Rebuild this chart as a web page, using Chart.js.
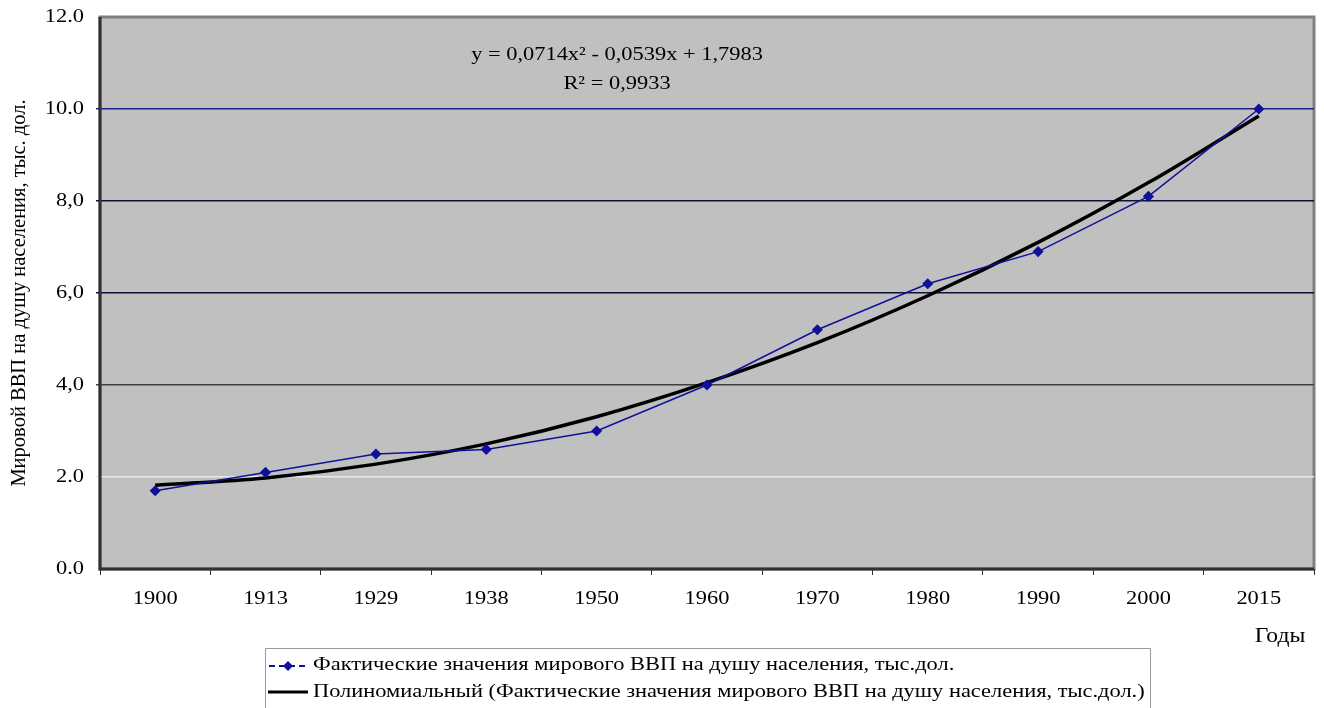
<!DOCTYPE html>
<html>
<head>
<meta charset="utf-8">
<script src="https://cdn.jsdelivr.net/npm/chart.js@4"></script>
<style>
  html, body { margin: 0; padding: 0; background: #fff; }
  #wrap { width: 1324px; height: 708px; position: relative; }
</style>
</head>
<body>
<div id="wrap"><canvas id="myChart" width="1324" height="708"></canvas></div>
<script>
// chart data
const years = ['1900', '1913', '1929', '1938', '1950', '1960', '1970', '1980', '1990', '2000', '2015'];
const gdpActual = [1.7, 2.1, 2.5, 2.6, 3.0, 4.0, 5.2, 6.2, 6.9, 8.1, 10.0];
// polynomial trend
const gdpTrend = [1.82, 1.98, 2.28, 2.72, 3.31, 4.05, 4.92, 5.94, 7.10, 8.40, 9.85];
const yTickLabels = { 0: '0.0', 2: '2.0', 4: '4,0', 6: '6,0', 8: '8,0', 10: '10.0', 12: '12.0' };
const actualLabel = 'Фактические значения мирового ВВП на душу населения, тыс.дол.';
const trendLabel = 'Полиномиальный (Фактические значения мирового ВВП на душу населения, тыс.дол.)';

const serif = '"Liberation Serif", "DejaVu Serif", serif';
const stretch = 1.18; // the scan is a bit wide, so text is stretched horizontally

// text drawn with horizontal stretch
function wideText(ctx, text, x, y, align) {
  ctx.save();
  ctx.translate(x, y);
  ctx.scale(stretch, 1);
  ctx.textAlign = align || 'left';
  ctx.textBaseline = 'middle';
  ctx.fillText(text, 0, 0);
  ctx.restore();
}

// grey plot background, frame, labels, equation, legend
const plotBg = {
  id: 'plotBg',
  beforeDraw(chart) {
    const { ctx, chartArea: a } = chart;
    ctx.save();
    ctx.fillStyle = '#c0c0c0';
    ctx.fillRect(a.left, a.top, a.right - a.left, a.bottom - a.top);
    ctx.strokeStyle = '#808080';
    ctx.lineWidth = 3;
    ctx.strokeRect(a.left, a.top, a.right - a.left, a.bottom - a.top);
    ctx.restore();
  },
  afterDatasetsDraw(chart) {
    const { ctx, chartArea: a, scales } = chart;
    ctx.save();
    ctx.fillStyle = '#000';
    ctx.font = '19px ' + serif;

    // tick labels
    scales.y.ticks.forEach((t) => {
      wideText(ctx, yTickLabels[t.value], 84, scales.y.getPixelForValue(t.value), 'right');
    });
    years.forEach((yr, i) => {
      wideText(ctx, yr, scales.x.getPixelForValue(i), 599, 'center');
    });

    // equation of the trend
    wideText(ctx, 'y = 0,0714x² - 0,0539x + 1,7983', 617, 55, 'center');
    wideText(ctx, 'R² = 0,9933', 617, 84, 'center');

    // axis lines
    ctx.strokeStyle = '#303030';
    ctx.lineWidth = 3;
    ctx.beginPath();
    ctx.moveTo(a.left, a.top);
    ctx.lineTo(a.left, a.bottom);
    ctx.lineTo(a.right, a.bottom);
    ctx.stroke();

    // axis name
    ctx.font = '20px ' + serif;
    wideText(ctx, 'Годы', 1280, 637, 'center');

    // legend box
    ctx.strokeStyle = '#999';
    ctx.lineWidth = 1;
    ctx.beginPath();
    ctx.moveTo(265.5, 708);
    ctx.lineTo(265.5, 648.5);
    ctx.lineTo(1150.5, 648.5);
    ctx.lineTo(1150.5, 708);
    ctx.stroke();
    // legend line 1
    ctx.strokeStyle = '#10109a';
    ctx.lineWidth = 2;
    ctx.setLineDash([6, 4]);
    ctx.beginPath();
    ctx.moveTo(269, 666);
    ctx.lineTo(307, 666);
    ctx.stroke();
    ctx.setLineDash([]);
    ctx.fillStyle = '#10109a';
    ctx.beginPath();
    ctx.moveTo(288, 661); ctx.lineTo(293, 666); ctx.lineTo(288, 671); ctx.lineTo(283, 666);
    ctx.closePath();
    ctx.fill();
    // legend line 2
    ctx.strokeStyle = '#000';
    ctx.lineWidth = 3;
    ctx.beginPath();
    ctx.moveTo(268, 692);
    ctx.lineTo(308, 692);
    ctx.stroke();
    ctx.fillStyle = '#000';
    ctx.font = '19px ' + serif;
    wideText(ctx, actualLabel, 313, 665);
    wideText(ctx, trendLabel, 313, 692);
    ctx.restore();
  }
};

const gridColor = (v) => {
  if (v === 10) return '#20208a';
  if (v === 8 || v === 6) return '#101038';
  if (v === 4) return '#404040';
  if (v === 2) return '#e8e8e8';
  return 'rgba(0,0,0,0)';
};

const ctx = document.getElementById('myChart').getContext('2d');
new Chart(ctx, {
  type: 'line',
  data: {
    labels: years,
    datasets: [{
      label: trendLabel,
      data: gdpTrend,
      borderColor: '#000',
      borderWidth: 3.5,
      pointRadius: 0,
      cubicInterpolationMode: 'monotone',
      order: 2
    }, {
      label: actualLabel,
      data: gdpActual,
      borderColor: '#10109a',
      backgroundColor: '#10109a',
      borderWidth: 1.5,
      pointStyle: 'rectRot',
      pointRadius: 4.5,
      tension: 0,
      order: 1
    }]
  },
  options: {
    responsive: false,
    animation: false,
    layout: { padding: { top: 17, right: 10, left: 0, bottom: 0 } },
    plugins: {
      legend: { display: false },
      tooltip: { enabled: false }
    },
    scales: {
      x: {
        offset: true,
        grid: {
          display: true,
          offset: true,
          drawOnChartArea: false,
          drawTicks: true,
          tickLength: 6,
          color: '#303030'
        },
        border: { display: false },
        ticks: { display: false },
        afterFit(scale) { scale.height = 139; }
      },
      y: {
        min: 0,
        max: 12,
        grid: {
          color: (c) => gridColor(c.tick.value),
          lineWidth: 1.5,
          tickLength: 4,
          drawTicks: true
        },
        border: { display: false },
        ticks: { display: false, stepSize: 2 },
        title: {
          display: true,
          text: 'Мировой ВВП на душу населения, тыс. дол.',
          color: '#000',
          font: { family: serif, size: 20.5 },
          padding: { top: 7, bottom: 0 }
        },
        afterFit(scale) { scale.width = 100; }
      }
    }
  },
  plugins: [plotBg]
});
</script>
</body>
</html>
